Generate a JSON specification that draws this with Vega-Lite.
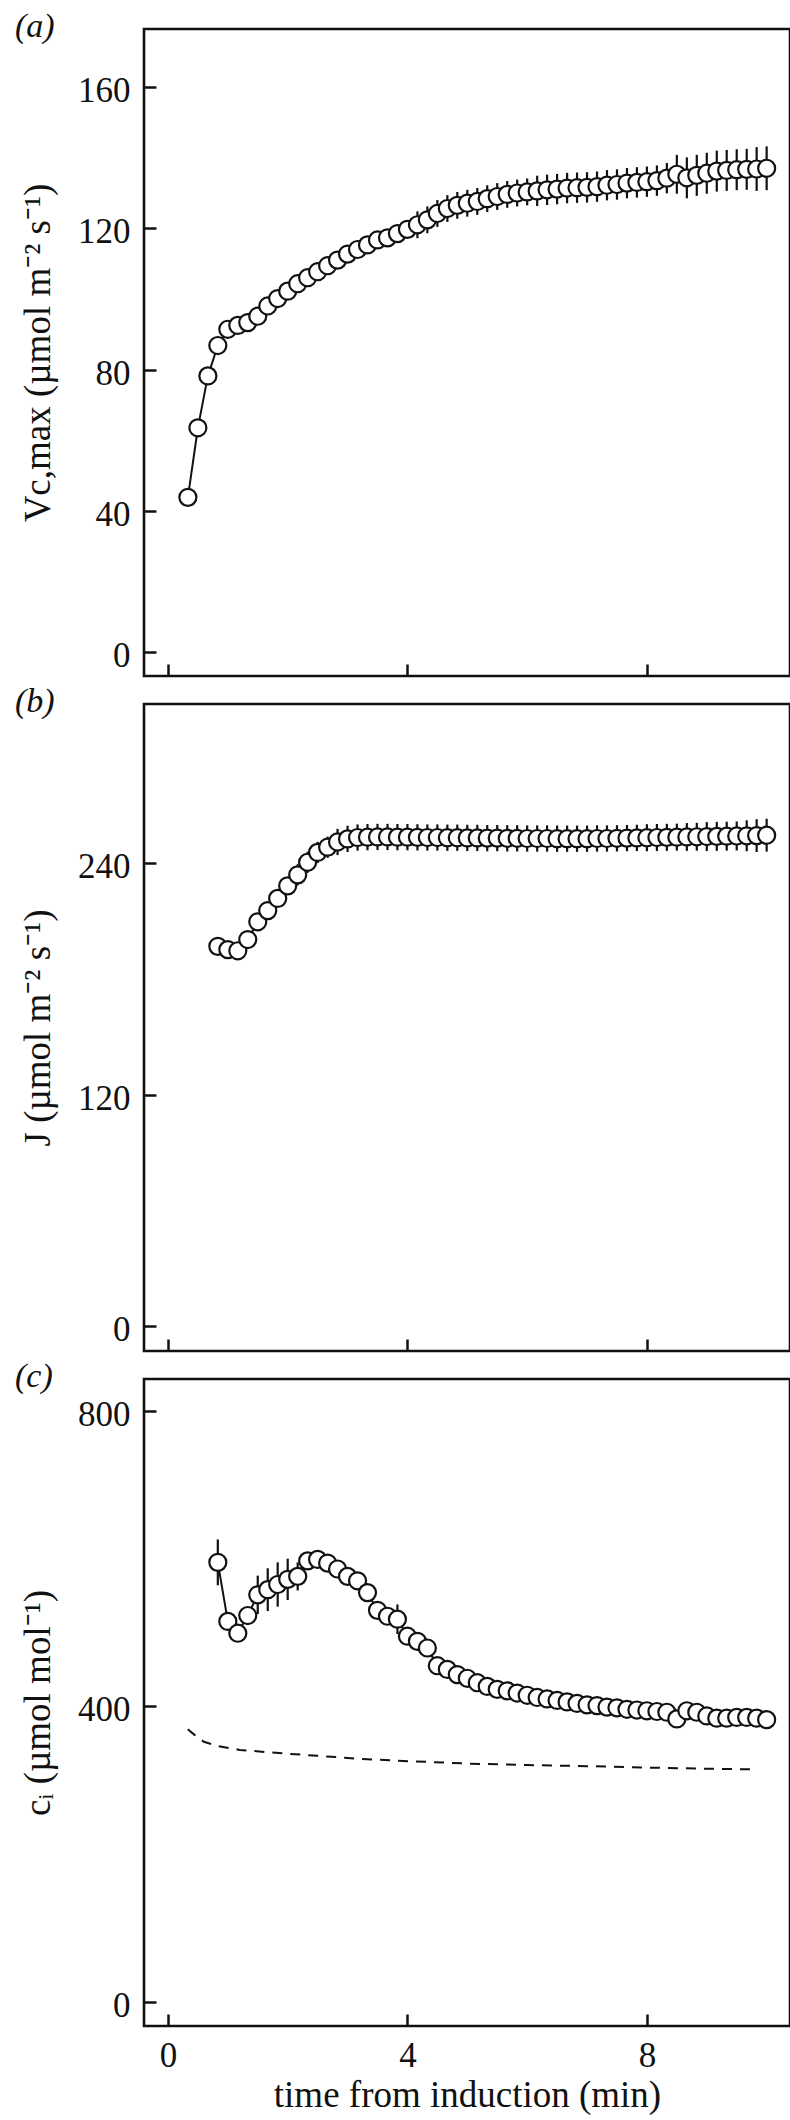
{
  "$schema": "https://vega.github.io/schema/vega-lite/v6.json",
  "autosize": {"type": "pad"},
  "padding": {"left": 13, "top": 8, "right": 0, "bottom": 0},
  "background": "white",
  "spacing": 28,
  "bounds": "flush",
  "config": {
    "font": "Liberation Serif",
    "view": {"stroke": "#111111", "strokeWidth": 2.6},
    "axis": {"domain": false, "grid": false, "tickSize": -12, "tickWidth": 2.5, "tickColor": "#111111",
      "labelFont": "Liberation Serif", "labelFontSize": 35, "labelColor": "#111111",
      "titleFont": "Liberation Serif", "titleFontSize": 37, "titleFontWeight": "normal", "titleColor": "#111111"},
    "title": {"font": "Liberation Serif", "fontSize": 34, "fontWeight": "normal", "fontStyle": "italic", "anchor": "start", "color": "#111111"}
  },
  "datasets": {
    "vc": [
      {"t":0.333,"v":43.8,"sd":1.5},{"t":0.5,"v":63.5,"sd":1.5},{"t":0.667,"v":78.2,"sd":1.5},{"t":0.833,"v":86.8,"sd":1.5},
      {"t":1.0,"v":91.4,"sd":1.5},{"t":1.167,"v":92.5,"sd":1.5},{"t":1.333,"v":93.3,"sd":1.5},{"t":1.5,"v":95.1,"sd":1.5},
      {"t":1.667,"v":98.0,"sd":1.5},{"t":1.833,"v":100.1,"sd":1.5},{"t":2.0,"v":102.2,"sd":1.5},{"t":2.167,"v":104.3,"sd":1.5},
      {"t":2.333,"v":106.0,"sd":1.5},{"t":2.5,"v":107.7,"sd":1.5},{"t":2.667,"v":109.4,"sd":1.5},{"t":2.833,"v":111.0,"sd":1.5},
      {"t":3.0,"v":112.7,"sd":1.5},{"t":3.167,"v":114.0,"sd":1.5},{"t":3.333,"v":115.3,"sd":1.5},{"t":3.5,"v":116.7,"sd":1.5},
      {"t":3.667,"v":117.3,"sd":2.5},{"t":3.833,"v":118.5,"sd":2.5},{"t":4.0,"v":119.7,"sd":2.5},{"t":4.167,"v":121.0,"sd":3.8},
      {"t":4.333,"v":122.4,"sd":3.8},{"t":4.5,"v":124.2,"sd":3.8},{"t":4.667,"v":125.6,"sd":3.8},{"t":4.833,"v":126.5,"sd":3.8},
      {"t":5.0,"v":127.1,"sd":3.8},{"t":5.167,"v":127.6,"sd":3.8},{"t":5.333,"v":128.4,"sd":3.8},{"t":5.5,"v":129.0,"sd":3.8},
      {"t":5.667,"v":129.6,"sd":3.8},{"t":5.833,"v":130.0,"sd":3.8},{"t":6.0,"v":130.3,"sd":3.8},{"t":6.167,"v":130.6,"sd":4.3},
      {"t":6.333,"v":130.9,"sd":4.3},{"t":6.5,"v":131.1,"sd":4.3},{"t":6.667,"v":131.4,"sd":4.3},{"t":6.833,"v":131.5,"sd":4.3},
      {"t":7.0,"v":131.6,"sd":4.3},{"t":7.167,"v":131.8,"sd":4.3},{"t":7.333,"v":132.2,"sd":4.3},{"t":7.5,"v":132.4,"sd":4.3},
      {"t":7.667,"v":132.8,"sd":4.3},{"t":7.833,"v":133.0,"sd":4.3},{"t":8.0,"v":133.2,"sd":4.3},{"t":8.167,"v":133.5,"sd":4.3},
      {"t":8.333,"v":134.2,"sd":4.3},{"t":8.5,"v":135.3,"sd":5.5},{"t":8.667,"v":134.3,"sd":5.8},{"t":8.833,"v":135.0,"sd":5.8},
      {"t":9.0,"v":135.6,"sd":5.8},{"t":9.167,"v":136.2,"sd":5.8},{"t":9.333,"v":136.4,"sd":5.8},{"t":9.5,"v":136.6,"sd":5.8},
      {"t":9.667,"v":136.7,"sd":5.8},{"t":9.833,"v":136.8,"sd":6.2},{"t":10.0,"v":137.0,"sd":6.2}
    ],
    "j": [
      {"t":0.833,"v":196.7,"sd":3},{"t":1.0,"v":195.0,"sd":3},{"t":1.167,"v":194.4,"sd":3},{"t":1.333,"v":200.2,"sd":3},
      {"t":1.5,"v":209.4,"sd":3},{"t":1.667,"v":215.2,"sd":3},{"t":1.833,"v":221.5,"sd":3},{"t":2.0,"v":228.0,"sd":3},
      {"t":2.167,"v":233.7,"sd":5.5},{"t":2.333,"v":240.2,"sd":5.5},{"t":2.5,"v":245.3,"sd":5.5},{"t":2.667,"v":248.0,"sd":5.5},
      {"t":2.833,"v":250.7,"sd":6.8},{"t":3.0,"v":252.3,"sd":6.8},{"t":3.167,"v":253.0,"sd":6.8},{"t":3.333,"v":253.2,"sd":6.8},
      {"t":3.5,"v":253.3,"sd":6.8},{"t":3.667,"v":253.3,"sd":6.8},{"t":3.833,"v":253.2,"sd":6.8},{"t":4.0,"v":253.2,"sd":6.8},
      {"t":4.167,"v":253.1,"sd":6.8},{"t":4.333,"v":253.0,"sd":6.8},{"t":4.5,"v":253.0,"sd":6.8},{"t":4.667,"v":252.9,"sd":6.8},
      {"t":4.833,"v":252.9,"sd":6.8},{"t":5.0,"v":252.8,"sd":6.8},{"t":5.167,"v":252.8,"sd":6.8},{"t":5.333,"v":252.7,"sd":6.8},
      {"t":5.5,"v":252.7,"sd":6.8},{"t":5.667,"v":252.6,"sd":6.8},{"t":5.833,"v":252.6,"sd":6.8},{"t":6.0,"v":252.5,"sd":6.8},
      {"t":6.167,"v":252.5,"sd":6.8},{"t":6.333,"v":252.5,"sd":6.8},{"t":6.5,"v":252.4,"sd":6.8},{"t":6.667,"v":252.4,"sd":6.8},
      {"t":6.833,"v":252.4,"sd":6.8},{"t":7.0,"v":252.4,"sd":6.8},{"t":7.167,"v":252.5,"sd":6.8},{"t":7.333,"v":252.5,"sd":6.8},
      {"t":7.5,"v":252.6,"sd":6.8},{"t":7.667,"v":252.7,"sd":6.8},{"t":7.833,"v":252.8,"sd":6.8},{"t":8.0,"v":252.9,"sd":7.0},
      {"t":8.167,"v":253.0,"sd":7.0},{"t":8.333,"v":253.1,"sd":7.0},{"t":8.5,"v":253.2,"sd":7.0},{"t":8.667,"v":253.3,"sd":7.2},
      {"t":8.833,"v":253.4,"sd":7.2},{"t":9.0,"v":253.5,"sd":7.5},{"t":9.167,"v":253.6,"sd":7.5},{"t":9.333,"v":253.7,"sd":7.5},
      {"t":9.5,"v":253.8,"sd":7.5},{"t":9.667,"v":253.9,"sd":8.0},{"t":9.833,"v":254.0,"sd":8.5},{"t":10.0,"v":254.2,"sd":8.5}
    ],
    "ci": [
      {"t":0.833,"v":595,"sd":31},{"t":1.0,"v":515,"sd":6},{"t":1.167,"v":499,"sd":6},{"t":1.333,"v":523,"sd":6},
      {"t":1.5,"v":551,"sd":26},{"t":1.667,"v":558,"sd":29},{"t":1.833,"v":565,"sd":30},{"t":2.0,"v":572,"sd":28},
      {"t":2.167,"v":576,"sd":19},{"t":2.333,"v":597,"sd":6},{"t":2.5,"v":599,"sd":6},{"t":2.667,"v":594,"sd":6},
      {"t":2.833,"v":586,"sd":6},{"t":3.0,"v":576,"sd":6},{"t":3.167,"v":570,"sd":6},{"t":3.333,"v":554,"sd":6},
      {"t":3.5,"v":530,"sd":6},{"t":3.667,"v":522,"sd":6},{"t":3.833,"v":518,"sd":20},{"t":4.0,"v":495,"sd":6},
      {"t":4.167,"v":488,"sd":6},{"t":4.333,"v":479,"sd":6},{"t":4.5,"v":455,"sd":6},{"t":4.667,"v":450,"sd":6},
      {"t":4.833,"v":443,"sd":6},{"t":5.0,"v":438,"sd":6},{"t":5.167,"v":432,"sd":6},{"t":5.333,"v":427,"sd":6},
      {"t":5.5,"v":423,"sd":6},{"t":5.667,"v":421,"sd":6},{"t":5.833,"v":418,"sd":6},{"t":6.0,"v":415,"sd":6},
      {"t":6.167,"v":412,"sd":6},{"t":6.333,"v":410,"sd":6},{"t":6.5,"v":408,"sd":6},{"t":6.667,"v":406,"sd":6},
      {"t":6.833,"v":404,"sd":6},{"t":7.0,"v":402,"sd":6},{"t":7.167,"v":401,"sd":6},{"t":7.333,"v":399,"sd":6},
      {"t":7.5,"v":398,"sd":6},{"t":7.667,"v":396,"sd":6},{"t":7.833,"v":395,"sd":6},{"t":8.0,"v":394,"sd":6},
      {"t":8.167,"v":393,"sd":6},{"t":8.333,"v":392,"sd":6},{"t":8.5,"v":383,"sd":6},{"t":8.667,"v":394,"sd":6},
      {"t":8.833,"v":392,"sd":6},{"t":9.0,"v":387,"sd":6},{"t":9.167,"v":384,"sd":6},{"t":9.333,"v":384,"sd":6},
      {"t":9.5,"v":385,"sd":6},{"t":9.667,"v":385,"sd":6},{"t":9.833,"v":384,"sd":6},{"t":10.0,"v":382,"sd":6}
    ],
    "ca": [
      {"t":0.33,"v":369},{"t":0.45,"v":361},{"t":0.6,"v":352},{"t":0.85,"v":346},{"t":1.2,"v":341},
      {"t":1.8,"v":337},{"t":2.5,"v":333},{"t":3.2,"v":329},{"t":3.8,"v":326.5},{"t":5.0,"v":322.5},
      {"t":6.0,"v":320.5},{"t":7.0,"v":319},{"t":8.0,"v":317},{"t":9.0,"v":315.5},{"t":9.8,"v":314.6}
    ]
  },
  "vconcat": [
    {
      "width": 646, "height": 647,
      "title": {"text": "(a)", "dx": -129, "dy": 42, "offset": 0, "baseline": "alphabetic", "frame": "group"},
      "data": {"name": "vc"},
      "encoding": {
        "x": {"field": "t", "type": "quantitative", "scale": {"domain": [-0.4, 10.39], "nice": false, "zero": false},
          "axis": {"values": [0, 4, 8], "labels": false, "title": null}},
        "y": {"field": "v", "type": "quantitative", "scale": {"domain": [-6.8, 176.45], "nice": false, "zero": false},
          "axis": {"values": [0, 40, 80, 120, 160], "title": "Vc,max (µmol m⁻² s⁻¹)", "labelPadding": 26, "labelOffset": 3.5, "titleX": -106, "titleBaseline": "middle"}}
      },
      "layer": [
        {"mark": {"type": "errorbar", "color": "#111111", "thickness": 2.2}, "encoding": {"yError": {"field": "sd"}}},
        {"mark": {"type": "line", "color": "#111111", "strokeWidth": 2}},
        {"mark": {"type": "point", "shape": "circle", "filled": true, "fill": "white", "fillOpacity": 1, "opacity": 1, "stroke": "#111111", "strokeWidth": 2.2, "size": 290}}
      ]
    },
    {
      "width": 646, "height": 647,
      "title": {"text": "(b)", "dx": -129, "dy": 42, "offset": 0, "baseline": "alphabetic", "frame": "group"},
      "data": {"name": "j"},
      "encoding": {
        "x": {"field": "t", "type": "quantitative", "scale": {"domain": [-0.4, 10.39], "nice": false, "zero": false},
          "axis": {"values": [0, 4, 8], "labels": false, "title": null}},
        "y": {"field": "v", "type": "quantitative", "scale": {"domain": [-12.7, 322.1], "nice": false, "zero": false},
          "axis": {"values": [0, 120, 240], "title": "J (µmol m⁻² s⁻¹)", "labelPadding": 26, "labelOffset": 3.5, "titleX": -106, "titleBaseline": "middle"}}
      },
      "layer": [
        {"mark": {"type": "errorbar", "color": "#111111", "thickness": 2.2}, "encoding": {"yError": {"field": "sd"}}},
        {"mark": {"type": "line", "color": "#111111", "strokeWidth": 2}},
        {"mark": {"type": "point", "shape": "circle", "filled": true, "fill": "white", "fillOpacity": 1, "opacity": 1, "stroke": "#111111", "strokeWidth": 2.2, "size": 290}}
      ]
    },
    {
      "width": 646, "height": 647,
      "title": {"text": "(c)", "dx": -129, "dy": 42, "offset": 0, "baseline": "alphabetic", "frame": "group"},
      "encoding": {
        "x": {"field": "t", "type": "quantitative", "scale": {"domain": [-0.4, 10.39], "nice": false, "zero": false},
          "axis": {"values": [0, 4, 8], "format": "d", "title": "time from induction (min)", "labelPadding": 52, "labelBaseline": "alphabetic", "titleY": 80, "titleBaseline": "alphabetic"}},
        "y": {"field": "v", "type": "quantitative", "scale": {"domain": [-32.9, 843.3], "nice": false, "zero": false},
          "axis": {"values": [0, 400, 800], "title": "cᵢ (µmol mol⁻¹)", "labelPadding": 26, "labelOffset": 3.5, "titleX": -106, "titleBaseline": "middle"}}
      },
      "layer": [
        {
          "data": {"name": "ca"},
          "mark": {"type": "line", "color": "#111111", "strokeWidth": 2, "strokeDash": [10, 8]}
        },
        {
          "data": {"name": "ci"},
          "layer": [
            {"mark": {"type": "errorbar", "color": "#111111", "thickness": 2.2}, "encoding": {"yError": {"field": "sd"}}},
            {"mark": {"type": "line", "color": "#111111", "strokeWidth": 2}},
            {"mark": {"type": "point", "shape": "circle", "filled": true, "fill": "white", "fillOpacity": 1, "opacity": 1, "stroke": "#111111", "strokeWidth": 2.2, "size": 290}}
          ]
        }
      ]
    }
  ]
}
